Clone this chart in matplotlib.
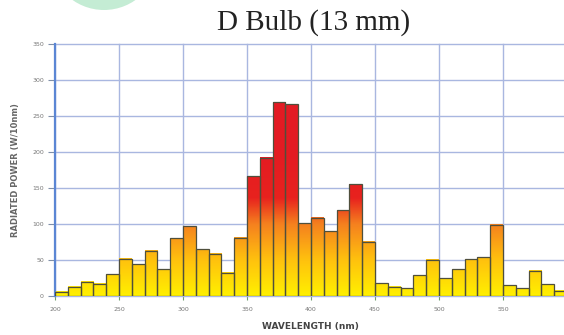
import matplotlib.pyplot as plt
import numpy as np
from matplotlib.colors import LinearSegmentedColormap, Normalize
from matplotlib.patches import Ellipse

# spectral output of the D bulb, one bin per 10 nm starting at 200 nm
bin_start = np.arange(200, 600, 10)
power = [6, 13, 20, 17, 30, 52, 44, 63, 37, 80,
         97, 65, 59, 32, 81, 166, 192, 269, 266, 101,
         109, 90, 119, 155, 75, 18, 13, 11, 29, 50,
         25, 37, 51, 54, 99, 15, 11, 35, 16, 7]
x_ticks = [200, 250, 300, 350, 400, 450, 500, 550]
y_ticks = [0, 50, 100, 150, 200, 250, 300, 350]

# fill colour depends on absolute power: yellow low, orange mid, red high
heat = LinearSegmentedColormap.from_list(
    "heat", [(0.0, "#fff000"), (0.25, "#ffc10e"), (0.5, "#f5801f"),
             (0.68, "#e8221e"), (1.0, "#e31b23")])
norm = Normalize(0, 200)

W, H = 564, 335
fig = plt.figure(figsize=(W / 100, H / 100), dpi=100)
# pale green disc peeking in at the top edge
r = 54.6
fig.patches.append(Ellipse((104 / W, 1 + 44.6 / H), 2 * r / W, 2 * r / H,
                           transform=fig.transFigure, facecolor="#c4ecd4",
                           edgecolor="none", zorder=0))
ax = fig.add_axes([55 / W, 1 - 296 / H, 1 - 55 / W, 252 / H])

for x0, h in zip(bin_start, power):
    grad = np.linspace(0, h, 200).reshape(-1, 1)
    ax.imshow(grad, extent=[x0, x0 + 10, 0, h], origin="lower", cmap=heat,
              norm=norm, aspect="auto", interpolation="bilinear", zorder=2)
    ax.bar(x0, h, width=10, align="edge", facecolor="none",
           edgecolor="#4f4f3c", linewidth=0.9, zorder=3)

ax.set_xlim(200, 597.6)
ax.set_ylim(0, 350)
ax.set_xticks(x_ticks)
ax.set_yticks(y_ticks)
ax.grid(True, color="#a9b7e0", linewidth=1.0, zorder=0)
ax.set_axisbelow(True)
for gl in ax.get_xgridlines() + ax.get_ygridlines():
    gl.set_clip_on(False)

for side in ["top", "right", "bottom"]:
    ax.spines[side].set_visible(False)
ax.spines["left"].set_color("#5b86d4")
ax.spines["left"].set_linewidth(1.6)

ax.tick_params(axis="y", length=5, width=0.8, color="#7f8fa8",
               labelsize=4.5, labelcolor="#777777", pad=3)
ax.tick_params(axis="x", length=3, width=0.8, color="#6f9f6f",
               labelsize=4.5, labelcolor="#777777", pad=5)

ax.set_ylabel("RADIATED POWER (W/10nm)", fontsize=6, color="#666666",
              fontweight="bold", labelpad=9)
ax.set_xlabel("WAVELENGTH (nm)", fontsize=6.5, color="#444444",
              fontweight="bold")
ax.xaxis.set_label_coords((310 - 55) / (W - 55), -0.105)

fig.text(314 / W, 1 - 23 / H, "D Bulb (13 mm)", ha="center", va="center",
         fontsize=21, family="Liberation Serif", color="#222222")

fig.savefig("out.png", dpi=100)
